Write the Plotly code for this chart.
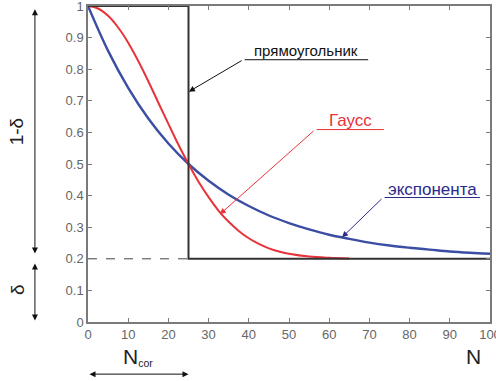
import plotly.graph_objects as go

# Read-off values
n_exp = [0, 5, 10, 15, 20, 25, 30, 35, 40, 45, 50, 55, 60, 65, 70, 75, 80, 85, 90, 95, 100]
v_exp = [1.0, 0.858, 0.741, 0.644, 0.565, 0.500, 0.447, 0.403, 0.367, 0.337, 0.313,
         0.293, 0.276, 0.263, 0.251, 0.242, 0.235, 0.229, 0.223, 0.219, 0.216]

n_gauss = [0, 2.5, 5, 7.5, 10, 12.5, 15, 17.5, 20, 22.5, 25, 27.5, 30, 32.5, 35, 37.5, 40,
           42.5, 45, 47.5, 50, 55, 60, 65]
v_gauss = [1.0, 0.992, 0.969, 0.932, 0.884, 0.826, 0.762, 0.694, 0.627, 0.561, 0.500,
           0.444, 0.395, 0.352, 0.317, 0.288, 0.265, 0.247, 0.233, 0.223, 0.216,
           0.207, 0.203, 0.201]

n_rect = [0, 25, 25, 100]
v_rect = [1.0, 1.0, 0.2, 0.2]

n_delta = [0, 25]
v_delta = [0.2, 0.2]

x_ticks = [0, 10, 20, 30, 40, 50, 60, 70, 80, 90, 100]
y_ticks = [0, 0.1, 0.2, 0.3, 0.4, 0.5, 0.6, 0.7, 0.8, 0.9, 1]
y_labels = ["0", "0.1", "0.2", "0.3", "0.4", "0.5", "0.6", "0.7", "0.8", "0.9", "1"]

BLUE = "#3b4ea3"
RED = "#e8333a"
NAVY = "#2a2a8c"
DARK = "#333333"
GRAY = "#7a7a7a"
FONT = "Liberation Sans, Arial, sans-serif"

fig = go.Figure()
fig.add_trace(go.Scatter(x=n_delta, y=v_delta, mode="lines",
                         line=dict(color="#444444", width=1, dash="dash"), cliponaxis=False))
fig.add_trace(go.Scatter(x=n_exp, y=v_exp, mode="lines", line=dict(color=BLUE, width=2.4, shape="spline")))
fig.add_trace(go.Scatter(x=n_gauss, y=v_gauss, mode="lines", line=dict(color=RED, width=2, shape="spline")))
fig.add_trace(go.Scatter(x=n_rect, y=v_rect, mode="lines", line=dict(color=DARK, width=2), cliponaxis=False))

ann = []
# callouts: underline + arrow
def callout(text, color, tx, ty, ux0, ux1, uy, hx, hy, size):
    ann.append(dict(x=tx, y=ty, xref="x", yref="y", text=text, showarrow=False,
                    xanchor="center", yanchor="middle",
                    font=dict(family=FONT, size=size, color=color)))
    ann.append(dict(x=ux1, y=uy, ax=ux0, ay=uy, xref="x", yref="y", axref="x", ayref="y",
                    text="", showarrow=True, arrowhead=0, arrowwidth=1, arrowcolor=color))
    ann.append(dict(x=hx, y=hy, ax=ux0, ay=uy, xref="x", yref="y", axref="x", ayref="y",
                    text="", showarrow=True, arrowhead=2, arrowsize=1.2, arrowwidth=1,
                    arrowcolor=color, standoff=0))

callout("прямоугольник", "#111111", 54.2, 0.858, 38.6, 69.7, 0.830, 25.1, 0.729, 15)
callout("Гаусс", RED, 65.2, 0.637, 56.5, 73.6, 0.609, 32.8, 0.341, 17)
callout("экспонента", NAVY, 85.8, 0.418, 73.4, 97.5, 0.394, 63.2, 0.268, 17)

# left side arrows (1-δ and δ)
xl = -0.132
ann.append(dict(x=xl, y=0.99, xref="paper", yref="y", ax=0, ay=0.212, axref="pixel", ayref="y",
                text="", showarrow=True, arrowhead=2, startarrowhead=2, arrowside="end+start",
                arrowsize=1.2, arrowwidth=1, arrowcolor="#111111", standoff=0, startstandoff=0))
ann.append(dict(x=xl, y=0.005, xref="paper", yref="y", ax=0, ay=0.19, axref="pixel", ayref="y",
                text="", showarrow=True, arrowhead=2, startarrowhead=2, arrowside="end+start",
                arrowsize=1.2, arrowwidth=1, arrowcolor="#111111", standoff=0, startstandoff=0))
ann.append(dict(x=-0.177, y=0.603, xref="paper", yref="paper", text="1-δ", showarrow=False, textangle=-90,
                xanchor="center", yanchor="middle",
                font=dict(family=FONT, size=19, color="#222222")))
ann.append(dict(x=-0.177, y=0.104, xref="paper", yref="paper", text="δ", showarrow=False, textangle=-90,
                xanchor="center", yanchor="middle",
                font=dict(family=FONT, size=19, color="#222222")))
# bottom
ann.append(dict(x=25, y=-0.165, ax=0, ay=0, xref="x", yref="paper", axref="x", ayref="pixel",
                text="", showarrow=True, arrowhead=2, startarrowhead=2, arrowside="end+start",
                arrowsize=1.2, arrowwidth=1, arrowcolor="#111111", standoff=0, startstandoff=0))
ann.append(dict(x=12.5, y=-0.11, xref="x", yref="paper",
                text="N<span style='font-size:15px'><sub>cor</sub></span>", showarrow=False,
                xanchor="center", yanchor="middle",
                font=dict(family=FONT, size=21, color="#222222")))
ann.append(dict(x=95.8, y=-0.11, xref="x", yref="paper", text="N", showarrow=False,
                xanchor="center", yanchor="middle",
                font=dict(family=FONT, size=21, color="#222222")))

axis_common = dict(showline=True, linecolor=GRAY, linewidth=1.5, mirror="ticks", ticks="inside",
                   ticklen=4, tickcolor=GRAY, tickwidth=1, showgrid=False, zeroline=False,
                   automargin=False, ticklabeloverflow="allow",
                   tickfont=dict(family=FONT, size=13, color="#666666"))

fig.update_layout(
    width=496, height=381, margin=dict(l=88, r=6, t=6, b=59),
    paper_bgcolor="white", plot_bgcolor="white", showlegend=False,
    annotations=ann,
    xaxis=dict(range=[0, 100], tickvals=x_ticks, ticktext=[str(v) for v in x_ticks], **axis_common),
    yaxis=dict(range=[0, 1], tickvals=y_ticks, ticktext=y_labels, **axis_common),
)

fig.write_html("out.html", config={"displayModeBar": False},
               post_script="document.body.style.margin='0';document.body.style.overflow='hidden';")
